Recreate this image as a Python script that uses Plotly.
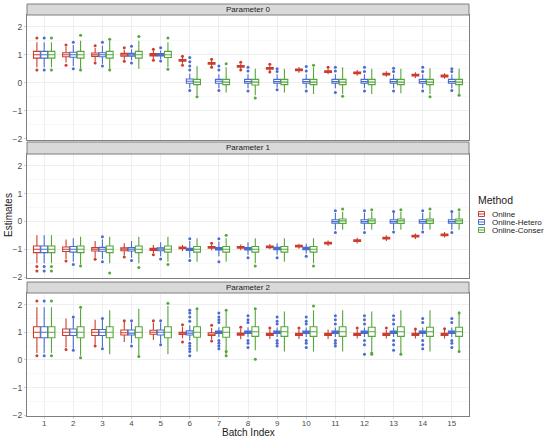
import plotly.graph_objects as go

batches = list(range(1, 16))
methods = ["Online", "Online-Hetero", "Online-Conser"]
colors = ["#CC3D2E", "#4A6CD0", "#55A63C"]
panel_titles = ["Parameter 0", "Parameter 1", "Parameter 2"]

# ---------------- Parameter 0 ----------------
p0_on_med = [1.0, 1.0, 1.0, 1.0, 1.0, 0.80, 0.69, 0.58, 0.51, 0.46, 0.40, 0.35, 0.31, 0.27, 0.24]
p0_on_q1 = [0.88, 0.93, 0.94, 0.95, 0.96, 0.77, 0.66, 0.55, 0.48, 0.43, 0.37, 0.32, 0.28, 0.24, 0.21]
p0_on_q3 = [1.12, 1.07, 1.06, 1.05, 1.04, 0.83, 0.72, 0.61, 0.54, 0.49, 0.43, 0.38, 0.34, 0.30, 0.27]
p0_on_lo = [0.55, 0.72, 0.76, 0.82, 0.85, 0.68, 0.58, 0.48, 0.41, 0.36, 0.30, 0.25, 0.21, 0.17, 0.14]
p0_on_hi = [1.45, 1.28, 1.24, 1.18, 1.15, 0.92, 0.80, 0.68, 0.61, 0.56, 0.50, 0.45, 0.41, 0.37, 0.34]
p0_on_out = [[1.6, 0.45], [1.35, 0.62], [1.32, 0.7], [1.25, 0.77], [1.2, 0.8], [0.95, 0.62],
             [0.84, 0.55], [0.73, 0.45], [0.66, 0.38], [], [0.55], [], [], [], []]

p0_he_med = [1.0, 1.0, 1.0, 1.0, 1.0, 0.05, 0.05, 0.04, 0.04, 0.04, 0.04, 0.04, 0.04, 0.04, 0.04]
p0_he_q1 = [0.88, 0.91, 0.93, 0.95, 0.96, -0.02, -0.02, -0.02, -0.02, -0.02, -0.02, -0.02, -0.02, -0.02, -0.02]
p0_he_q3 = [1.12, 1.09, 1.07, 1.05, 1.04, 0.13, 0.12, 0.12, 0.12, 0.12, 0.12, 0.12, 0.12, 0.12, 0.12]
p0_he_lo = [0.55, 0.60, 0.68, 0.80, 0.85, -0.20, -0.20, -0.20, -0.18, -0.20, -0.20, -0.20, -0.20, -0.20, -0.20]
p0_he_hi = [1.45, 1.35, 1.32, 1.20, 1.15, 0.32, 0.30, 0.30, 0.30, 0.30, 0.30, 0.30, 0.30, 0.30, 0.30]
p0_he_out = [[1.6, 0.45], [1.45, 0.5], [1.45, 0.6], [1.3, 0.7], [1.25, 0.78],
             [0.9, 0.75, 0.6, 0.45, -0.28], [0.6, 0.45, -0.28], [0.55, 0.42, -0.3], [0.5, 0.4, -0.25],
             [0.58, 0.42, -0.3], [0.55, 0.42, -0.35], [0.55, 0.4, -0.3], [0.52, 0.4, -0.3],
             [0.55, 0.4, -0.3], [0.5, 0.4, -0.28]]

p0_co_med = [1.0, 1.0, 1.0, 1.0, 1.0, 0.02, 0.02, 0.02, 0.02, 0.02, 0.02, 0.02, 0.02, 0.02, 0.02]
p0_co_q1 = [0.88, 0.88, 0.88, 0.88, 0.90, -0.07, -0.07, -0.08, -0.07, -0.07, -0.07, -0.07, -0.07, -0.07, -0.07]
p0_co_q3 = [1.12, 1.12, 1.12, 1.12, 1.12, 0.12, 0.12, 0.12, 0.12, 0.12, 0.12, 0.12, 0.12, 0.12, 0.12]
p0_co_lo = [0.55, 0.50, 0.50, 0.50, 0.55, -0.45, -0.35, -0.45, -0.35, -0.40, -0.40, -0.40, -0.38, -0.40, -0.40]
p0_co_hi = [1.45, 1.50, 1.50, 1.50, 1.45, 0.60, 0.55, 0.50, 0.50, 0.55, 0.55, 0.50, 0.50, 0.52, 0.50]
p0_co_out = [[1.6, 0.45], [1.7, 0.45], [1.55, 0.45], [1.65], [1.6, 0.48], [-0.5], [0.68],
             [-0.55], [], [0.62], [-0.48], [], [], [-0.5], [-0.45]]

# ---------------- Parameter 1 ----------------
p1_on_med = [-1.0, -1.0, -1.0, -1.0, -1.0, -0.95, -0.93, -0.93, -0.91, -0.89, -0.78, -0.69, -0.60, -0.53, -0.48]
p1_on_q1 = [-1.12, -1.08, -1.06, -1.05, -1.04, -0.98, -0.96, -0.96, -0.94, -0.92, -0.81, -0.72, -0.63, -0.56, -0.51]
p1_on_q3 = [-0.88, -0.92, -0.94, -0.95, -0.96, -0.92, -0.90, -0.90, -0.88, -0.86, -0.75, -0.66, -0.57, -0.50, -0.45]
p1_on_lo = [-1.50, -1.35, -1.30, -1.22, -1.15, -1.06, -1.03, -1.03, -1.00, -0.98, -0.88, -0.79, -0.70, -0.63, -0.58]
p1_on_hi = [-0.50, -0.65, -0.70, -0.78, -0.85, -0.85, -0.83, -0.83, -0.81, -0.80, -0.68, -0.59, -0.50, -0.43, -0.38]
p1_on_out = [[-1.62, -1.78], [-1.42], [-1.36], [-1.28], [-1.2], [], [-0.78], [], [], [],
             [], [], [], [], []]

p1_he_med = [-1.0, -1.0, -1.0, -1.0, -1.0, -1.0, -0.98, -0.98, -0.97, -0.97, 0.0, 0.0, 0.0, 0.0, 0.0]
p1_he_q1 = [-1.12, -1.10, -1.07, -1.06, -1.05, -1.04, -1.02, -1.02, -1.01, -1.01, -0.06, -0.06, -0.06, -0.06, -0.06]
p1_he_q3 = [-0.88, -0.90, -0.93, -0.94, -0.95, -0.96, -0.94, -0.94, -0.93, -0.93, 0.06, 0.06, 0.06, 0.06, 0.06]
p1_he_lo = [-1.50, -1.45, -1.35, -1.30, -1.25, -1.30, -1.25, -1.20, -1.20, -1.15, -0.30, -0.30, -0.30, -0.30, -0.30]
p1_he_hi = [-0.50, -0.60, -0.65, -0.70, -0.75, -0.70, -0.72, -0.75, -0.78, -0.80, 0.30, 0.30, 0.30, 0.30, 0.30]
p1_he_out = [[-1.62, -1.78], [-1.55], [-1.45, -0.55], [-1.4], [-1.35], [-1.4, -0.62], [-1.45, -0.62],
             [-1.3], [-1.3], [-1.25], [-0.4, 0.38], [-0.4, 0.38], [-0.38, 0.36], [-0.38, 0.38], [-0.4, 0.36]]

p1_co_med = [-1.0, -1.0, -1.0, -1.0, -1.0, -1.0, -1.0, -1.0, -1.0, -1.0, 0.02, 0.02, 0.02, 0.02, 0.02]
p1_co_q1 = [-1.12, -1.12, -1.12, -1.12, -1.10, -1.10, -1.10, -1.10, -1.10, -1.10, -0.07, -0.07, -0.07, -0.07, -0.07]
p1_co_q3 = [-0.88, -0.88, -0.88, -0.88, -0.88, -0.90, -0.90, -0.90, -0.90, -0.90, 0.09, 0.09, 0.09, 0.09, 0.09]
p1_co_lo = [-1.50, -1.55, -1.50, -1.50, -1.45, -1.45, -1.45, -1.50, -1.45, -1.50, -0.30, -0.30, -0.30, -0.30, -0.30]
p1_co_hi = [-0.50, -0.55, -0.55, -0.55, -0.55, -0.60, -0.60, -0.60, -0.60, -0.60, 0.35, 0.35, 0.35, 0.35, 0.35]
p1_co_out = [[-1.62, -1.78], [-1.6], [-1.85], [-1.65], [-1.55], [], [-0.5], [-1.6], [], [-1.6],
             [0.45], [0.42], [0.42], [0.45], [0.42]]

# ---------------- Parameter 2 ----------------
p2_on_med = [1.0, 1.0, 1.0, 0.98, 1.0, 0.97, 0.93, 0.93, 0.92, 0.92, 0.92, 0.92, 0.92, 0.92, 0.92]
p2_on_q1 = [0.80, 0.88, 0.88, 0.90, 0.93, 0.92, 0.88, 0.89, 0.88, 0.88, 0.88, 0.88, 0.88, 0.88, 0.88]
p2_on_q3 = [1.20, 1.12, 1.10, 1.08, 1.07, 1.00, 0.98, 0.97, 0.96, 0.96, 0.96, 0.96, 0.96, 0.96, 0.96]
p2_on_lo = [0.25, 0.45, 0.55, 0.65, 0.72, 0.78, 0.75, 0.75, 0.76, 0.76, 0.76, 0.77, 0.77, 0.77, 0.77]
p2_on_hi = [1.90, 1.50, 1.45, 1.38, 1.35, 1.20, 1.15, 1.12, 1.10, 1.10, 1.10, 1.10, 1.08, 1.08, 1.08]
p2_on_out = [[2.13, 0.15], [0.38], [0.5], [1.42], [1.42], [1.27, 0.65], [1.25, 0.68], [1.18], [1.15],
             [1.15], [], [1.15], [1.15], [1.12], [1.13]]

p2_he_med = [1.0, 1.0, 1.0, 0.97, 1.0, 0.97, 1.0, 1.0, 1.0, 1.0, 1.0, 1.0, 1.0, 1.0, 1.0]
p2_he_q1 = [0.80, 0.88, 0.88, 0.90, 0.90, 0.90, 0.96, 0.96, 0.96, 0.96, 0.96, 0.96, 0.96, 0.96, 0.96]
p2_he_q3 = [1.20, 1.12, 1.10, 1.08, 1.08, 1.05, 1.04, 1.04, 1.04, 1.04, 1.04, 1.04, 1.04, 1.04, 1.04]
p2_he_lo = [0.25, 0.40, 0.45, 0.60, 0.60, 0.70, 0.82, 0.82, 0.83, 0.83, 0.83, 0.83, 0.83, 0.83, 0.83]
p2_he_hi = [1.90, 1.50, 1.45, 1.35, 1.35, 1.25, 1.18, 1.18, 1.17, 1.17, 1.17, 1.17, 1.17, 1.17, 1.17]
p2_he_out = [[2.13, 0.15], [1.55, 0.35], [1.5, 0.4], [1.42, 0.5], [1.42, 0.55],
             [1.8, 1.7, 1.55, 1.4, 0.6, 0.5, 0.4, 0.3, 0.15], [1.7, 1.55, 1.45, 1.35, 0.7, 0.6, 0.5, 0.4],
             [1.6, 1.45, 1.35, 0.7, 0.6, 0.45], [1.55, 1.4, 1.3, 0.7, 0.6, 0.5], [1.55, 1.4, 1.3, 0.7, 0.6, 0.45],
             [1.6, 1.45, 1.3, 0.7, 0.6, 0.5], [1.6, 1.45, 1.3, 0.7, 0.55, 0.2], [1.6, 1.45, 1.3, 0.7, 0.55, 0.35],
             [1.5, 1.35, 0.7, 0.55, 0.4], [1.5, 1.35, 0.7, 0.6, 0.45]]

p2_co_med = [1.0, 1.0, 1.0, 1.0, 1.0, 1.0, 1.0, 1.02, 1.02, 1.02, 1.02, 1.02, 1.02, 1.02, 1.02]
p2_co_q1 = [0.80, 0.80, 0.80, 0.80, 0.80, 0.82, 0.82, 0.85, 0.85, 0.85, 0.85, 0.85, 0.85, 0.85, 0.85]
p2_co_q3 = [1.20, 1.20, 1.20, 1.20, 1.20, 1.20, 1.18, 1.20, 1.20, 1.20, 1.20, 1.18, 1.20, 1.18, 1.18]
p2_co_lo = [0.25, 0.15, 0.20, 0.15, 0.20, 0.30, 0.20, 0.35, 0.30, 0.30, 0.30, 0.30, 0.25, 0.30, 0.30]
p2_co_hi = [1.90, 1.85, 1.80, 1.85, 1.95, 1.80, 1.75, 1.80, 1.75, 1.80, 1.80, 1.75, 1.80, 1.80, 1.75]
p2_co_out = [[2.13, 0.15], [1.9, 0.08], [], [0.12], [2.05], [1.85], [1.8, 0.3, 0.15], [0.02, 1.85], [],
             [1.95], [], [0.25, 0.2], [0.2], [], [0.3, 1.7]]

stats = [
    [(p0_on_q1, p0_on_med, p0_on_q3, p0_on_lo, p0_on_hi, p0_on_out),
     (p0_he_q1, p0_he_med, p0_he_q3, p0_he_lo, p0_he_hi, p0_he_out),
     (p0_co_q1, p0_co_med, p0_co_q3, p0_co_lo, p0_co_hi, p0_co_out)],
    [(p1_on_q1, p1_on_med, p1_on_q3, p1_on_lo, p1_on_hi, p1_on_out),
     (p1_he_q1, p1_he_med, p1_he_q3, p1_he_lo, p1_he_hi, p1_he_out),
     (p1_co_q1, p1_co_med, p1_co_q3, p1_co_lo, p1_co_hi, p1_co_out)],
    [(p2_on_q1, p2_on_med, p2_on_q3, p2_on_lo, p2_on_hi, p2_on_out),
     (p2_he_q1, p2_he_med, p2_he_q3, p2_he_lo, p2_he_hi, p2_he_out),
     (p2_co_q1, p2_co_med, p2_co_q3, p2_co_lo, p2_co_hi, p2_co_out)],
]

FONT = "Liberation Sans, Arial, sans-serif"
W, H = 550, 441
ML, MR, MT, MB = 27, 81, 4, 25
PW, PH = W - ML - MR, H - MT - MB


def px_x(px):
    return (px - ML) / PW


def px_y(py):
    return (H - MB - py) / PH


dodge = 0.25
offsets = [-dodge, 0.0, dodge]

# panel vertical domains (paper fraction), strips above each
area_domains = [[px_y(139.5), px_y(15)], [px_y(278), px_y(154)], [0.0, px_y(293)]]
strip_domains = [[px_y(15), 1.0], [px_y(154), px_y(142)], [px_y(293), px_y(282)]]

fig = go.Figure()
for p in range(3):
    xa = "x" if p == 0 else f"x{p+1}"
    ya = "y" if p == 0 else f"y{p+1}"
    for m in range(3):
        q1, med, q3, lo, hi, out = stats[p][m]
        xs = [b + offsets[m] for b in batches]
        fig.add_trace(go.Box(
            x=xs, q1=q1, median=med, q3=q3, lowerfence=lo, upperfence=hi,
            width=0.235, whiskerwidth=0, boxpoints=False,
            line=dict(color=colors[m], width=1.1), fillcolor="white",
            name=methods[m], showlegend=False,
            xaxis=xa, yaxis=ya, hoverinfo="skip"))
        ox, oy = [], []
        for i, b in enumerate(batches):
            for v in out[i]:
                ox.append(b + offsets[m])
                oy.append(v)
        fig.add_trace(go.Scatter(
            x=ox, y=oy, mode="markers",
            marker=dict(color=colors[m], size=3),
            showlegend=False, xaxis=xa, yaxis=ya, hoverinfo="skip"))

axis_common = dict(showline=True, mirror=True, linecolor="#7f7f7f", linewidth=1,
                   zeroline=False, gridcolor="#EBEBEB", gridwidth=0.8, automargin=False)

layout = dict(
    width=W, height=H,
    margin=dict(l=ML, r=MR, t=MT, b=MB),
    paper_bgcolor="white", plot_bgcolor="white",
    font=dict(family=FONT, size=8, color="#4D4D4D"),
    boxmode="overlay",
    showlegend=False,
    hovermode=False,
)

for p in range(3):
    xk = "xaxis" if p == 0 else f"xaxis{p+1}"
    yk = "yaxis" if p == 0 else f"yaxis{p+1}"
    ya = "y" if p == 0 else f"y{p+1}"
    xa = "x" if p == 0 else f"x{p+1}"
    layout[xk] = dict(axis_common, domain=[0, 1], anchor=ya, range=[0.41, 15.59],
                      tickvals=batches, ticktext=[str(b) for b in batches],
                      showticklabels=(p == 2), ticks="outside" if p == 2 else "",
                      ticklen=2, tickcolor="#D0D0D0", ticklabelstandoff=-3,
                      tickfont=dict(size=8, color="#4D4D4D"))
    layout[yk] = dict(axis_common, domain=area_domains[p], anchor=xa, range=[-2.03, 2.42],
                      tickvals=[-2, -1, 0, 1, 2], ticks="outside", ticklen=2, tickcolor="#D0D0D0",
                      tickfont=dict(size=8.5, color="#4D4D4D"),
                      minor=dict(tickvals=[-1.5, -0.5, 0.5, 1.5], showgrid=True,
                                 gridcolor="#F3F3F3", gridwidth=0.6, ticks=""))

fig.update_layout(**layout)

shapes = []
annotations = []
for p in range(3):
    shapes.append(dict(type="rect", xref="paper", yref="paper", x0=0, x1=1,
                       y0=strip_domains[p][0], y1=strip_domains[p][1],
                       fillcolor="#D9D9D9", line=dict(color="#7f7f7f", width=1), layer="above"))
    annotations.append(dict(text=panel_titles[p], xref="paper", yref="paper", x=0.5,
                            y=(strip_domains[p][0] + strip_domains[p][1]) / 2,
                            showarrow=False, font=dict(size=8, color="#1A1A1A"),
                            xanchor="center", yanchor="middle"))
annotations.append(dict(text="Estimates", xref="paper", yref="paper", x=px_x(8), y=px_y(215),
                        textangle=-90, showarrow=False, xanchor="center", yanchor="middle",
                        font=dict(size=10, color="#1A1A1A")))
annotations.append(dict(text="Batch Index", xref="paper", yref="paper", x=0.5, y=px_y(432.5),
                        showarrow=False, xanchor="center", yanchor="middle",
                        font=dict(size=10, color="#1A1A1A")))

# legend (drawn as key glyphs + labels)
annotations.append(dict(text="Method", xref="paper", yref="paper", x=px_x(476), y=px_y(200.5),
                        showarrow=False, xanchor="left", yanchor="middle",
                        font=dict(size=10.5, color="#1A1A1A")))
leg_y = [214, 222, 230]
for m in range(3):
    cy = leg_y[m]
    shapes.append(dict(type="rect", xref="paper", yref="paper",
                       x0=px_x(478.5), x1=px_x(484.5), y0=px_y(cy + 2.5), y1=px_y(cy - 2.5),
                       line=dict(color=colors[m], width=1), fillcolor="white"))
    shapes.append(dict(type="line", xref="paper", yref="paper",
                       x0=px_x(478.5), x1=px_x(484.5), y0=px_y(cy), y1=px_y(cy),
                       line=dict(color=colors[m], width=1)))
    annotations.append(dict(text=methods[m], xref="paper", yref="paper", x=px_x(490), y=px_y(cy),
                            showarrow=False, xanchor="left", yanchor="middle",
                            font=dict(size=8, color="#1A1A1A")))

fig.update_layout(shapes=shapes, annotations=annotations)

fig.write_html("out.html", config={"displayModeBar": False, "staticPlot": True},
               post_script="document.body.style.margin='0px';document.body.style.overflow='hidden';")
